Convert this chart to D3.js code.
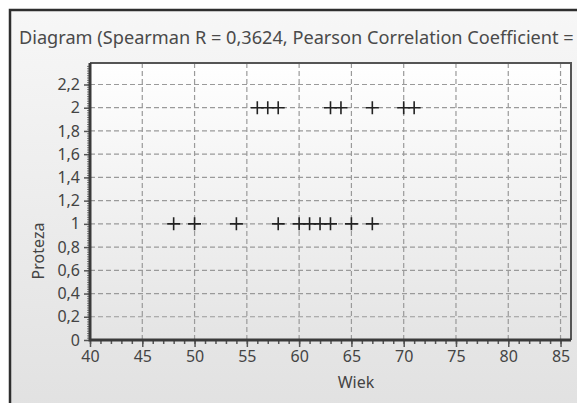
<!DOCTYPE html>
<html>
<head>
<meta charset="utf-8">
<script src="https://cdn.jsdelivr.net/npm/d3@7"></script>
<style>
  body { margin: 0; background: #fff; }
  svg { display: block; font-family: "Noto Sans", sans-serif; }
</style>
</head>
<body>
<div id="chart"></div>
<script>
// age (Wiek) of each patient with Proteza = 2 and Proteza = 1
var wiek2 = [56, 57, 58, 63, 64, 67, 70, 71];
var wiek1 = [48, 50, 54, 58, 60, 61, 62, 63, 65, 67];
var xTicks = [40, 45, 50, 55, 60, 65, 70, 75, 80, 85];
var yTicks = [0, 0.2, 0.4, 0.6, 0.8, 1, 1.2, 1.4, 1.6, 1.8, 2, 2.2];
var titleText = "Diagram (Spearman R = 0,3624, Pearson Correlation Coefficient =";

var W = 577, H = 403,
    plot = {left: 90, right: 571, top: 63, bottom: 340};

var x = d3.scaleLinear().domain([40, 86]).range([plot.left, plot.right]),
    y = d3.scaleLinear().domain([0, 2.385]).range([plot.bottom, plot.top]);

var fmt = function (v) { return String(Math.round(v * 10) / 10).replace(".", ","); };

var svg = d3.select("#chart").append("svg")
    .attr("width", W)
    .attr("height", H);

var defs = svg.append("defs");
var g1 = defs.append("linearGradient").attr("id", "panelGrad").attr("x1", 0).attr("y1", 0).attr("x2", 0).attr("y2", 1);
g1.append("stop").attr("offset", "0%").attr("stop-color", "#f7f7f7");
g1.append("stop").attr("offset", "100%").attr("stop-color", "#e0e0e0");
var g2 = defs.append("linearGradient").attr("id", "plotGrad").attr("x1", 0).attr("y1", 0).attr("x2", 0).attr("y2", 1);
g2.append("stop").attr("offset", "0%").attr("stop-color", "#ffffff");
g2.append("stop").attr("offset", "100%").attr("stop-color", "#e4e4e4");
defs.append("clipPath").attr("id", "panelClip")
    .append("rect").attr("x", 11).attr("y", 11).attr("width", W).attr("height", H);

// outer panel
svg.append("rect")
    .attr("x", 10).attr("y", 10)
    .attr("width", W + 20).attr("height", H + 20)
    .attr("fill", "url(#panelGrad)")
    .attr("stroke", "#2e2e2e")
    .attr("stroke-width", 2.5);

// title (clipped by the panel, as in the original)
var title = svg.append("text")
    .attr("clip-path", "url(#panelClip)")
    .attr("x", 19).attr("y", 44)
    .attr("fill", "#4a4a4a")
    .style("font-size", "16px")
    .text(titleText);
var tl = title.node().getComputedTextLength();
title.style("font-size", (16 * 555 / tl) + "px");

// plot area
svg.append("rect")
    .attr("x", plot.left).attr("y", plot.top)
    .attr("width", plot.right - plot.left).attr("height", plot.bottom - plot.top)
    .attr("fill", "url(#plotGrad)");

// grid
svg.append("g").selectAll("line")
    .data(xTicks.slice(1))
    .enter().append("line")
    .attr("x1", function (d) { return x(d); }).attr("x2", function (d) { return x(d); })
    .attr("y1", plot.top).attr("y2", plot.bottom)
    .attr("stroke", "#9a9a9a").attr("stroke-width", 1.2).attr("stroke-dasharray", "5,3");

svg.append("g").selectAll("line")
    .data(yTicks.slice(1))
    .enter().append("line")
    .attr("y1", function (d) { return y(d); }).attr("y2", function (d) { return y(d); })
    .attr("x1", plot.left).attr("x2", plot.right)
    .attr("stroke", "#9a9a9a").attr("stroke-width", 1.2).attr("stroke-dasharray", "5,3");

// top + right frame of the plot
svg.append("path")
    .attr("d", "M" + plot.left + "," + plot.top + "H" + plot.right + "V" + plot.bottom)
    .attr("fill", "none").attr("stroke", "#555").attr("stroke-width", 2);

// x axis
var xAxis = svg.append("g")
    .attr("transform", "translate(0," + plot.bottom + ")");
xAxis.call(d3.axisBottom(x).tickValues(d3.range(40, 86, 1)).tickSize(4).tickFormat(""));
xAxis.call(function (g) {
    g.select(".domain").remove();
    g.selectAll(".tick line").attr("stroke", "#555").attr("stroke-width", 1.5);
});
var xMajor = svg.append("g")
    .attr("transform", "translate(0," + plot.bottom + ")")
    .call(d3.axisBottom(x).tickValues(xTicks).tickSize(7).tickPadding(4).tickFormat(fmt));
xMajor.select(".domain").remove();
xMajor.selectAll(".tick line").attr("stroke", "#555").attr("stroke-width", 1.5);
xMajor.selectAll(".tick text")
    .attr("fill", "#444")
    .style("font-size", "16px")
    .style("font-family", "Noto Sans, sans-serif");

// y axis
var yMinor = svg.append("g")
    .attr("transform", "translate(" + plot.left + ",0)")
    .call(d3.axisLeft(y).tickValues(d3.range(0, 2.38, 0.02)).tickSize(3).tickFormat(""));
yMinor.select(".domain").remove();
yMinor.selectAll(".tick line").attr("stroke", "#777").attr("stroke-width", 1);
var yMajor = svg.append("g")
    .attr("transform", "translate(" + plot.left + ",0)")
    .call(d3.axisLeft(y).tickValues(yTicks).tickSize(6).tickPadding(4).tickFormat(fmt));
yMajor.select(".domain").remove();
yMajor.selectAll(".tick line").attr("stroke", "#555").attr("stroke-width", 1.5);
yMajor.selectAll(".tick text")
    .attr("fill", "#444")
    .style("font-size", "16px")
    .style("font-family", "Noto Sans, sans-serif");

// thick axis lines
svg.append("path")
    .attr("d", "M" + plot.left + "," + plot.top + "V" + plot.bottom + "H" + plot.right)
    .attr("fill", "none").attr("stroke", "#3a3a3a").attr("stroke-width", 3);

// axis titles
svg.append("text")
    .attr("x", 356).attr("y", 388)
    .attr("text-anchor", "middle")
    .attr("fill", "#444")
    .style("font-size", "16px")
    .text("Wiek");
svg.append("text")
    .attr("transform", "translate(44,251)rotate(-90)")
    .attr("text-anchor", "middle")
    .attr("fill", "#444")
    .style("font-size", "16px")
    .text("Proteza");

// points
var pts = wiek2.map(function (d) { return {x: d, y: 2}; })
    .concat(wiek1.map(function (d) { return {x: d, y: 1}; }));
svg.append("g").selectAll("path")
    .data(pts)
    .enter().append("path")
    .attr("d", function (d) {
        var px = x(d.x), py = y(d.y), r = 6.5;
        return "M" + (px - r) + "," + py + "H" + (px + r) + "M" + px + "," + (py - r) + "V" + (py + r);
    })
    .attr("stroke", "#222")
    .attr("stroke-width", 1.6);
</script>
</body>
</html>
